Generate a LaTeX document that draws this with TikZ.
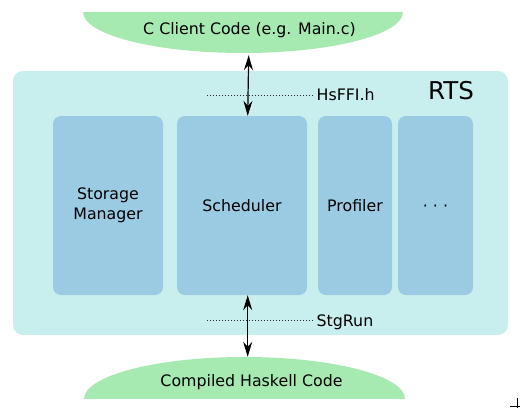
\documentclass[tikz,border=0pt]{standalone}
\usepackage{fontspec}
\setmainfont{DejaVu Sans}
\usetikzlibrary{arrows.meta,shapes.geometric}
\definecolor{rtscol}{RGB}{200,239,237}
\definecolor{boxcol}{RGB}{155,203,226}
\definecolor{codecol}{RGB}{166,234,178}
\tikzset{
  lbl/.style={font=\fontsize{15.8}{20}\selectfont, text=black, inner sep=0pt},
  part/.style={fill=boxcol, rounded corners=8pt, minimum height=179pt, inner sep=0pt, align=center, font=\fontsize{15.8}{20}\selectfont},
  code/.style={ellipse, fill=codecol, inner sep=0pt},
  arr/.style={line width=1.2pt, {Stealth[length=15pt,width=9pt,inset=5pt]}-{Stealth[length=15pt,width=9pt,inset=5pt]}},
  dotline/.style={line width=1.5pt, draw=black!85, dash pattern=on 1.4pt off 1.6pt}
}
\begin{document}
\begin{tikzpicture}[x=1pt,y=-1pt]
\useasboundingbox (0,0) rectangle (520,408);
% top client code ellipse
\begin{scope}
  \clip (0,12) rectangle (520,408);
  \node[code, minimum width=320pt, minimum height=82pt] (client) at (243,12) {};
\end{scope}
\node[lbl, anchor=base] (clienttxt) at (249.5,34.5) {C Client Code (e.g. Main.c)};
% bottom compiled code ellipse
\begin{scope}
  \clip (0,0) rectangle (520,398.5);
  \node[code, minimum width=321pt, minimum height=84pt] (hask) at (244.5,399) {};
\end{scope}
\node[lbl, anchor=base] (hasktxt) at (251.5,386.7) {Compiled Haskell Code};
% RTS
\node[fill=rtscol, rounded corners=10pt, minimum width=495pt, minimum height=264pt, inner sep=0pt] (rts) at (260.5,203) {};
\node[lbl, font=\fontsize{24.5}{28}\selectfont, anchor=base] (rtstxt) at (451,99) {RTS};
% parts
\node[part, minimum width=110pt] (sm) at (108,205.5) {Storage\\Manager};
\node[part, minimum width=130pt] (sched) at (242,205.5) {Scheduler};
\node[part, minimum width=74pt] (prof) at (355,205.5) {Profiler};
\node[part, minimum width=75pt, text height=12pt, text depth=0pt] (more) at (435.5,205.5) {· · ·};
% interfaces
\coordinate (h1) at (207,95.5);
\coordinate (h2) at (313,95.5);
\draw[dotline] (h1) -- (h2);
\node[lbl, anchor=base west] (hsffi) at (316.5,100) {HsFFI.h};
\coordinate (s1) at (207,320.5);
\coordinate (s2) at (313,320.5);
\draw[dotline] (s1) -- (s2);
\node[lbl, anchor=base west] (stgrun) at (316.5,326) {StgRun};
% arrows
\draw[arr] ([xshift=5.7pt,yshift=-2pt]client.south) -- ([xshift=5.7pt]sched.north);
\draw[arr] ([xshift=5.7pt]sched.south) -- ([xshift=5.7pt]sched.south |- hask.north);
% corner mark
\coordinate (m1) at (510,406.5);
\coordinate (m2) at (520,406.5);
\coordinate (m3) at (517.5,398);
\coordinate (m4) at (517.5,408);
\draw[line width=1.8pt] (m1) -- (m2);
\draw[line width=1.8pt] (m3) -- (m4);
\end{tikzpicture}
\end{document}
